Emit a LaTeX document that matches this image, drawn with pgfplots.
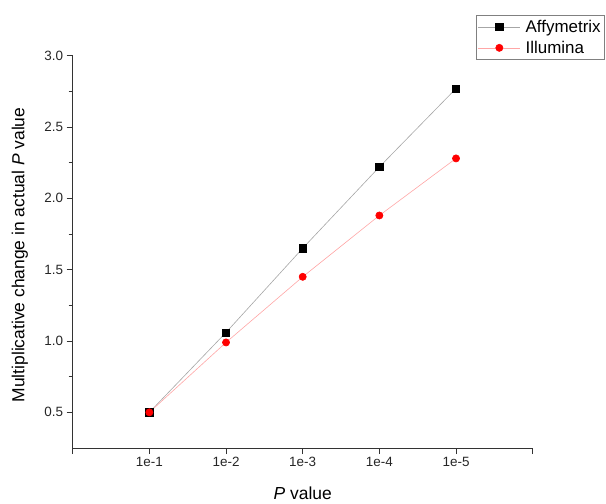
\documentclass[border=0pt]{standalone}
\usepackage{fontspec}
\setmainfont{Liberation Sans}
\usepackage{pgfplots}
\pgfplotsset{compat=1.18}

\begin{document}
\begin{tikzpicture}
% page frame: 606 x 504 px, axis box corner at (72.7, 448) px from top left
\path[use as bounding box] (-72.7bp,-56bp) rectangle (533.3bp,448bp);
\begin{axis}[
  at={(0,0)}, anchor=south west,
  scale only axis, width=460bp, height=392.3bp,
  xmin=0, xmax=6, ymin=0.25, ymax=3.0,
  axis x line*=bottom, axis y line*=left,
  axis line style={-, line width=0.9bp, black!80},
  xtick={0,1,2,3,4,5,6},
  xticklabels={,1e-1,1e-2,1e-3,1e-4,1e-5,},
  ytick={0.5,1.0,1.5,2.0,2.5,3.0},
  minor ytick={0.75,1.25,1.75,2.25,2.75},
  yticklabel style={/pgf/number format/.cd,fixed,fixed zerofill,precision=1},
  /pgf/number format/assume math mode=true,
  tick align=outside,
  major tick length=6bp, minor tick length=4bp,
  tick style={black!80, line width=0.9bp},
  tick label style={font=\fontsize{13.5}{15}\selectfont, text=black!85},
  xlabel={\textit{P} value},
  ylabel={Multiplicative change in actual \textit{P} value},
  label style={font=\fontsize{17.5}{20}\selectfont},
  xlabel style={at={(axis description cs:0.5,-0.130)}, anchor=base},
  ylabel style={at={(axis description cs:-0.1146,0.492)}, anchor=center},
  legend style={at={(axis description cs:1.157,1.104)}, anchor=north east,
    draw=black!50, line width=0.6bp, font=\fontsize{17}{20}\selectfont,
    inner xsep=2bp, inner ysep=3bp, row sep=3bp, column sep=3bp,
    nodes={inner sep=2bp}},
  legend cell align=left,
  legend image code/.code={\draw[mark repeat=2,mark phase=2,#1]
    plot coordinates {(0bp,0bp) (21bp,0bp) (42bp,0bp)};},
  clip=false,
]
\addplot[gray!70, line width=0.6bp, mark=square*, mark size=3.6bp,
  mark options={draw=black, fill=black}]
  coordinates {(1,0.50)(2,1.06)(3,1.65)(4,2.22)(5,2.77)};
\addlegendentry{Affymetrix}
\addplot[red!35, line width=0.6bp, mark=*, mark size=3.6bp,
  mark options={draw=red, fill=red}]
  coordinates {(1,0.50)(2,0.99)(3,1.45)(4,1.88)(5,2.28)};
\addlegendentry{Illumina}
\end{axis}
\end{tikzpicture}
\end{document}
